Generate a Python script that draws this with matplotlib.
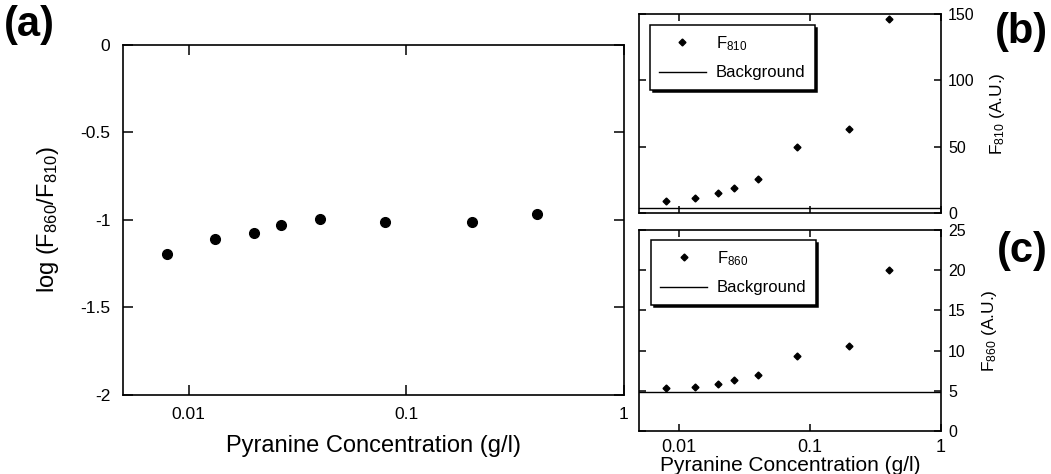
# encoding: utf-8

# Pyranine concentration series: log ratio (a), F810 (b) and F860 (c).

import matplotlib
matplotlib.use("Agg")
import matplotlib.pyplot as plt

plt.rcParams['font.family'] = ['Liberation Sans', 'DejaVu Sans']
plt.rcParams['mathtext.fontset'] = 'custom'
plt.rcParams['mathtext.rm'] = 'Liberation Sans'
plt.rcParams['mathtext.it'] = 'Liberation Sans'
plt.rcParams['mathtext.bf'] = 'Liberation Sans:bold'

conc = [0.008, 0.0133, 0.020, 0.0267, 0.040, 0.080, 0.20, 0.40]
log_ratio = [-1.196, -1.106, -1.074, -1.030, -0.992, -1.010, -1.010, -0.966]
f810 = [9.0, 11.1, 14.8, 19.1, 25.4, 50.0, 63.1, 146.0]
f860 = [5.3, 5.5, 5.8, 6.3, 7.0, 9.3, 10.6, 20.0]
bg_810 = 3.5
bg_860 = 4.8

x_ticks = [0.01, 0.1, 1]
x_labels = ['0.01', '0.1', '1']
a_ticks = [0, -0.5, -1, -1.5, -2]
a_labels = ['0', '-0.5', '-1', '-1.5', '-2']
b_ticks = [0, 50, 100, 150]
c_ticks = [0, 5, 10, 15, 20, 25]


def style_axes(ax, length, pad):
    for s in ax.spines.values():
        s.set_linewidth(1.2)
    ax.tick_params(which='major', direction='in', length=length, width=1.1,
                   top=True, right=True, pad=pad)
    ax.tick_params(which='minor', length=0)


def add_legend(ax, anchor):
    leg = ax.legend(loc='upper left', bbox_to_anchor=anchor,
                    borderaxespad=0, fancybox=False, edgecolor='black',
                    framealpha=1, fontsize=12, handlelength=2.8,
                    labelspacing=0.75, borderpad=0.55, handletextpad=0.6,
                    shadow={'color': 'black', 'alpha': 1})
    leg.get_frame().set_linewidth(1.1)
    return leg


fig = plt.figure(figsize=(10.51, 4.74), dpi=100)

# panel (a)
ax_a = fig.add_axes([0.117, 0.1667, 0.4767, 0.7384])
ax_a.plot(conc, log_ratio, 'o', color='black', markersize=7)
ax_a.set_xscale('log')
ax_a.set_xlim(0.005, 1)
ax_a.set_ylim(-2, 0)
ax_a.set_xticks(x_ticks)
ax_a.set_xticklabels(x_labels)
ax_a.set_yticks(a_ticks)
ax_a.set_yticklabels(a_labels)
style_axes(ax_a, 7, 9)
ax_a.tick_params(labelsize=12.5)
ax_a.set_xlabel('Pyranine Concentration (g/l)', fontsize=17, labelpad=9)
ax_a.set_ylabel(r'log (F$_{860}$/F$_{810}$)', fontsize=17, labelpad=14)

# panel (b)
ax_b = fig.add_axes([0.608, 0.5506, 0.2873, 0.4198])
ax_b.plot(conc, f810, 'D', color='black', markersize=3.5, label=r'F$_{810}$')
ax_b.axhline(bg_810, color='black', linewidth=1.0, label='Background')
ax_b.set_xscale('log')
ax_b.set_xlim(0.005, 1)
ax_b.set_ylim(0, 150)
ax_b.set_xticks(x_ticks)
ax_b.set_xticklabels([])
ax_b.set_yticks(b_ticks)
ax_b.yaxis.tick_right()
style_axes(ax_b, 5, 5)
ax_b.tick_params(labelsize=11.5, left=True, labelleft=False, labelright=True)
ax_b.yaxis.set_label_position('right')
ax_b.set_ylabel(r'F$_{810}$ (A.U.)', fontsize=12.5, labelpad=10)
add_legend(ax_b, (0.036, 0.945))

# panel (c)
ax_c = fig.add_axes([0.608, 0.0907, 0.2873, 0.424])
ax_c.plot(conc, f860, 'D', color='black', markersize=3.5, label=r'F$_{860}$')
ax_c.axhline(bg_860, color='black', linewidth=1.0, label='Background')
ax_c.set_xscale('log')
ax_c.set_xlim(0.005, 1)
ax_c.set_ylim(0, 25)
ax_c.set_xticks(x_ticks)
ax_c.set_xticklabels(x_labels)
ax_c.set_yticks(c_ticks)
ax_c.yaxis.tick_right()
style_axes(ax_c, 5, 5)
ax_c.tick_params(labelsize=11.5, left=True, labelleft=False, labelright=True)
ax_c.tick_params(axis='x', labelsize=13, pad=6)
ax_c.yaxis.set_label_position('right')
ax_c.set_ylabel(r'F$_{860}$ (A.U.)', fontsize=12.5, labelpad=10)
ax_c.set_xlabel('Pyranine Concentration (g/l)', fontsize=15, labelpad=0)
add_legend(ax_c, (0.04, 0.95))

fig.text(0.004, 0.99, '(a)', fontsize=30, fontweight='bold', va='top')
fig.text(0.997, 0.975, '(b)', fontsize=30, fontweight='bold', va='top', ha='right')
fig.text(0.997, 0.512, '(c)', fontsize=30, fontweight='bold', va='top', ha='right')

fig.savefig('out.png', dpi=100)
